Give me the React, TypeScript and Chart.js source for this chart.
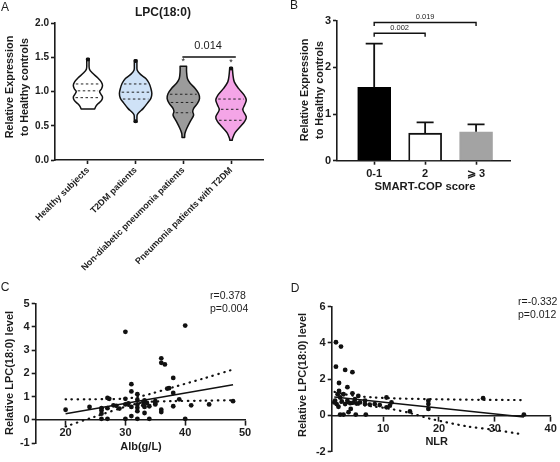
import React, { useEffect, useRef } from "react";
import { Chart, registerables } from "chart.js";

Chart.register(...registerables);

const FONT = "'Liberation Sans', Arial, Helvetica, sans-serif";
const INK = "#1c1c1c";

// ---------------- Panel A: violins ----------------
const groupLabels = [
  "Healthy subjects",
  "T2DM patients",
  "Non-diabetic pneumonia patients",
  "Pneumonia patients with T2DM",
];
const violinFills = ["#ffffff", "#cfe2f7", "#9b9b9b", "#f4a5e7"];
// [value, relative density]
const violinHealthy = [
  [1.48, 0.08], [1.42, 0.07], [1.33, 0.09], [1.27, 0.28], [1.2, 0.6], [1.14, 0.82],
  [1.09, 0.9], [1.04, 0.84], [1.0, 0.72], [0.96, 0.8], [0.92, 0.9], [0.87, 0.84],
  [0.82, 0.62], [0.78, 0.48], [0.745, 0.42],
];
const violinT2dm = [
  [1.46, 0.08], [1.38, 0.08], [1.31, 0.1], [1.25, 0.3], [1.19, 0.63], [1.12, 0.83],
  [1.045, 0.94], [0.97, 1.0], [0.9, 0.94], [0.83, 0.73], [0.75, 0.46], [0.705, 0.25],
  [0.66, 0.1], [0.6, 0.08], [0.55, 0.08],
];
const violinPneumonia = [
  [1.37, 0.2], [1.29, 0.2], [1.19, 0.25], [1.12, 0.42], [1.045, 0.73], [0.97, 0.94],
  [0.9, 1.0], [0.83, 0.88], [0.75, 0.63], [0.705, 0.58], [0.65, 0.63], [0.56, 0.42],
  [0.46, 0.21], [0.39, 0.1], [0.33, 0.08],
];
const violinPneumoniaT2dm = [
  [1.35, 0.08], [1.24, 0.12], [1.14, 0.2], [1.045, 0.46], [0.95, 0.8], [0.875, 0.94],
  [0.8, 0.83], [0.73, 0.73], [0.63, 0.94], [0.56, 0.83], [0.49, 0.58], [0.4, 0.25],
  [0.32, 0.1], [0.29, 0.08],
];
const violinProfiles = [violinHealthy, violinT2dm, violinPneumonia, violinPneumoniaT2dm];
// [Q3, median, Q1]
const violinQuartiles = [
  [1.11, 1.01, 0.91],
  [1.11, 0.99, 0.89],
  [0.96, 0.84, 0.69],
  [0.89, 0.74, 0.58],
];
const violinCaps = [[true, false], [true, true], [false, false], [true, false]];
const starGroups = [3, 4];
const starLevels = [1.44, 1.43];
const pValueA = "0.014";
const pValueALevel = 1.505;

// ---------------- Panel B: bars ----------------
const scoreLabels = ["0-1", "2", "\u2A7E 3"];
const meanValues = [1.57, 0.59, 0.62];
const upperErrors = [2.51, 0.82, 0.78];
const barFills = ["#000000", "#ffffff", "#a3a3a3"];
const barBorders = ["#000000", "#111111", "#a3a3a3"];
const compFrom = [1, 1];
const compTo = [2, 3];
const compLevels = [2.73, 2.96];
const compLabels = ["0.002", "0.019"];

// ---------------- Panel C: Alb scatter ----------------
const albValues = [
  20, 24, 26, 26, 26, 26, 27, 27, 27, 28, 29, 30, 30, 30, 30, 31, 31, 31, 31, 32, 32, 32, 32,
  32, 32, 33, 33, 33.2, 33.2, 33.2, 34, 34, 35, 35, 36, 36, 36, 36, 36.6, 37, 38, 38, 38, 39,
  40, 40, 41, 44, 48, 33.6, 30.5, 28.5, 35, 27.3, 37.3,
];
const albLpc = [
  0.43, 0.55, 0.4, 0.26, 0.04, 0.5, 0.94, 0.5, 0.04, 0.62, 0.48, 3.78, 0.9, 0.66, 0.04, 1.53,
  1.22, 0.55, 0.16, 1.1, 0.86, 0.66, 0.52, 0.37, 0.04, 0.76, 0.62, 0.83, 0.55, 0.29, 0.58,
  0.04, 0.8, 0.66, 2.64, 2.45, 0.43, 0.33, 2.38, 1.34, 1.8, 1.15, 0.58, 0.88, 4.05, 0.04,
  0.62, 0.66, 0.8, 0.72, 0.7, 0.6, 0.72, 0.9, 1.36,
];
const albFitX = [20, 48];
const albFitY = [0.26, 1.51];
const albUpperX = [20, 24, 28, 30, 32, 34, 38, 43, 48];
const albUpperY = [0.88, 0.88, 0.89, 0.91, 0.98, 1.1, 1.4, 1.77, 2.16];
const albLowerX = [20, 25, 30, 32, 34, 38, 43, 48];
const albLowerY = [-0.29, 0.14, 0.56, 0.7, 0.77, 0.8, 0.82, 0.84];
const albStats = ["r=0.378", "p=0.004"];

// ---------------- Panel D: NLR scatter ----------------
const nlrValues = [
  1.55, 2.45, 1.55, 3.2, 4.5, 2.1, 3.6, 2.1, 1.85, 1.4, 1.25, 1.67, 2.0, 2.3, 2.6, 2.9, 3.2,
  3.6, 4.1, 4.2, 4.5, 4.7, 4.96, 5.25, 5.55, 5.85, 6.75, 6.75, 6.9, 2.3, 2.9, 3.8, 5.1, 8.5,
  9.4, 10.6, 10.6, 11.2, 11.5, 14.8, 18.1, 18.1, 18.1, 27.9, 35.2, 7.6,
];
const nlrLpc = [
  4.04, 3.8, 2.69, 2.51, 2.39, 1.79, 1.56, 1.35, 1.17, 0.81, 0.72, 0.63, 0.48, 0.99, 0.77,
  1.17, 0.63, 0.81, 0.68, 0.36, 1.22, 0.72, 0.9, 0.66, 1.08, 0.72, 0.81, 0.63, 0.05, 0.05,
  0.05, 0.18, 0.05, 0.63, 0.57, 0.99, 0.45, 0.54, 0.72, 0.22, 0.81, 0.63, 0.36, 0.95, 0.05,
  0.6,
];
const nlrFitX = [1.25, 35.2];
const nlrFitY = [1.02, -0.09];
const nlrUpperX = [1.3, 3, 5, 8, 12, 20, 28, 35.2];
const nlrUpperY = [1.3, 1.18, 1.08, 1.0, 0.94, 0.89, 0.86, 0.85];
const nlrLowerX = [1.3, 4, 8, 11.2, 15, 18.4, 25, 30, 34.5];
const nlrLowerY = [0.74, 0.66, 0.5, 0.37, 0.12, -0.18, -0.6, -0.8, -1.02];
const nlrStats = ["r=-0.332", "p=0.012"];

// ---------------- helpers ----------------
const VIOLIN_MAX_HALF = 0.34;

function text(
  ctx: CanvasRenderingContext2D,
  s: string,
  x: number,
  y: number,
  size: number,
  weight = "normal",
  align: CanvasTextAlign = "center",
  rotate = 0
) {
  ctx.save();
  ctx.translate(x, y);
  if (rotate) ctx.rotate(rotate);
  ctx.font = `${weight} ${size}px ${FONT}`;
  ctx.fillStyle = INK;
  ctx.textAlign = align;
  ctx.textBaseline = "middle";
  ctx.fillText(s, 0, 0);
  ctx.restore();
}

function curveThrough(ctx: CanvasRenderingContext2D, pts: number[][]) {
  for (let i = 0; i < pts.length - 1; i++) {
    const p0 = pts[i - 1] || pts[i];
    const p1 = pts[i];
    const p2 = pts[i + 1];
    const p3 = pts[i + 2] || p2;
    ctx.bezierCurveTo(
      p1[0] + (p2[0] - p0[0]) / 6,
      p1[1] + (p2[1] - p0[1]) / 6,
      p2[0] - (p3[0] - p1[0]) / 6,
      p2[1] - (p3[1] - p1[1]) / 6,
      p2[0],
      p2[1]
    );
  }
}

function densityAt(prof: number[][], v: number) {
  for (let i = 0; i < prof.length - 1; i++) {
    const [v1, d1] = prof[i];
    const [v2, d2] = prof[i + 1];
    if ((v <= v1 && v >= v2) || (v >= v1 && v <= v2)) {
      const t = (v - v1) / (v2 - v1 || 1);
      return d1 + t * (d2 - d1);
    }
  }
  return 0;
}

function axisStyle(size: number, tickLen = 4) {
  return {
    border: { display: true, color: INK, width: 1.6 },
    grid: {
      display: true,
      drawOnChartArea: false,
      drawTicks: true,
      tickLength: tickLen,
      tickWidth: 1.6,
      tickColor: INK,
      color: INK,
    },
    ticks: {
      color: INK,
      font: { family: FONT, size, weight: "bold" as const },
      padding: 2,
      autoSkip: false,
    },
  };
}

function pts(xs: number[], ys: number[]) {
  return xs.map((x, i) => ({ x, y: ys[i] }));
}

const commonOptions = {
  responsive: false,
  maintainAspectRatio: false,
  animation: false as const,
  devicePixelRatio: 1,
  events: [] as any[],
  plugins: { legend: { display: false }, tooltip: { enabled: false }, title: { display: false } },
};

// ---------------- configs ----------------
function configA(): any {
  const violinPlugin = {
    id: "violins",
    afterDatasetsDraw(chart: any) {
      const { ctx } = chart;
      const x = chart.scales.x;
      const y = chart.scales.y;
      const unit = x.getPixelForValue(1 + VIOLIN_MAX_HALF) - x.getPixelForValue(1);
      violinProfiles.forEach((prof, i) => {
        const xc = x.getPixelForValue(i + 1);
        const right = prof.map(([v, d]) => [xc + d * unit, y.getPixelForValue(v)]);
        const left = prof.map(([v, d]) => [xc - d * unit, y.getPixelForValue(v)]).reverse();
        ctx.save();
        ctx.beginPath();
        ctx.moveTo(right[0][0], right[0][1]);
        curveThrough(ctx, right);
        ctx.lineTo(left[0][0], left[0][1]);
        curveThrough(ctx, left);
        ctx.closePath();
        ctx.fillStyle = violinFills[i];
        ctx.fill();
        ctx.strokeStyle = "#111";
        ctx.lineWidth = 1.5;
        ctx.lineJoin = "round";
        ctx.stroke();
        // caps
        const [topCap, botCap] = violinCaps[i];
        ctx.fillStyle = "#111";
        if (topCap) {
          ctx.beginPath();
          ctx.arc(xc, y.getPixelForValue(prof[0][0]) + 1, 2, 0, Math.PI * 2);
          ctx.fill();
        }
        if (botCap) {
          ctx.beginPath();
          ctx.arc(xc, y.getPixelForValue(prof[prof.length - 1][0]) - 1, 2, 0, Math.PI * 2);
          ctx.fill();
        }
        // quartiles
        ctx.setLineDash([2.5, 2.5]);
        ctx.lineWidth = 1;
        ctx.strokeStyle = "#222";
        violinQuartiles[i].forEach((q) => {
          const w = densityAt(prof, q) * unit - 2;
          const py = y.getPixelForValue(q);
          ctx.beginPath();
          ctx.moveTo(xc - w, py);
          ctx.lineTo(xc + w, py);
          ctx.stroke();
        });
        ctx.restore();
      });
      // stars
      starGroups.forEach((g, k) => {
        text(ctx, "*", x.getPixelForValue(g), y.getPixelForValue(starLevels[k]), 9);
      });
      // bracket
      const yb = y.getPixelForValue(pValueALevel);
      ctx.save();
      ctx.strokeStyle = "#111";
      ctx.lineWidth = 1.5;
      ctx.beginPath();
      ctx.moveTo(x.getPixelForValue(2.98), yb);
      ctx.lineTo(x.getPixelForValue(4.1), yb);
      ctx.stroke();
      ctx.restore();
      text(ctx, pValueA, x.getPixelForValue(3.52), yb - 11, 11);
      // titles
      text(ctx, "A", 5, 8, 12);
      text(ctx, "LPC(18:0)", 163, 13, 12, "bold");
      text(ctx, "Relative Expression", 10, 87, 10.8, "bold", "center", -Math.PI / 2);
      text(ctx, "to Healthy controls", 25, 87, 10.8, "bold", "center", -Math.PI / 2);
    },
  };
  return {
    type: "scatter",
    data: { datasets: [] },
    options: {
      ...commonOptions,
      layout: { padding: { top: 23, right: 17, bottom: 0, left: 0 } },
      scales: {
        x: {
          type: "linear",
          min: 0.31,
          max: 4.67,
          ...axisStyle(9),
          ticks: {
            ...axisStyle(9).ticks,
            maxRotation: 45,
            minRotation: 45,
            padding: 1,
            callback: (v: number) => groupLabels[Math.round(v) - 1] ?? "",
          },
          afterBuildTicks: (s: any) => {
            s.ticks = groupLabels.map((_, i) => ({ value: i + 1 }));
          },
          afterFit: (s: any) => {
            s.height = 140;
          },
        },
        y: {
          type: "linear",
          min: 0,
          max: 2,
          ...axisStyle(10),
          ticks: { ...axisStyle(10).ticks, stepSize: 0.5, callback: (v: number) => v.toFixed(1) },
          afterFit: (s: any) => {
            s.width = 55;
          },
        },
      },
    },
    plugins: [violinPlugin],
  };
}

function configB(): any {
  const plugin = {
    id: "barExtras",
    afterDatasetsDraw(chart: any) {
      const { ctx } = chart;
      const x = chart.scales.x;
      const y = chart.scales.y;
      ctx.save();
      ctx.strokeStyle = "#111";
      ctx.lineWidth = 1.8;
      meanValues.forEach((m, i) => {
        const xc = x.getPixelForValue(i + 1);
        const yt = y.getPixelForValue(upperErrors[i]);
        const ym = y.getPixelForValue(m);
        ctx.beginPath();
        ctx.moveTo(xc, ym);
        ctx.lineTo(xc, yt);
        ctx.moveTo(xc - 8.5, yt);
        ctx.lineTo(xc + 8.5, yt);
        ctx.stroke();
      });
      ctx.lineWidth = 1.4;
      compFrom.forEach((f, k) => {
        const x1 = x.getPixelForValue(f);
        const x2 = x.getPixelForValue(compTo[k]);
        const yl = y.getPixelForValue(compLevels[k]);
        ctx.beginPath();
        ctx.moveTo(x1, yl + 3.5);
        ctx.lineTo(x1, yl);
        ctx.lineTo(x2, yl);
        ctx.lineTo(x2, yl + 3.5);
        ctx.stroke();
        text(ctx, compLabels[k], (x1 + x2) / 2, yl - 5.5, 7.5);
      });
      ctx.restore();
      text(ctx, "B", 14, 6, 12);
      text(ctx, "Relative Expression", 25, 90, 10.8, "bold", "center", -Math.PI / 2);
      text(ctx, "to Healthy controls", 40, 90, 10.8, "bold", "center", -Math.PI / 2);
      text(ctx, "SMART-COP score", 145, 187, 11.3, "bold");
    },
  };
  return {
    type: "bar",
    data: {
      datasets: [
        {
          data: meanValues.map((v, i) => ({ x: i + 1, y: v })),
          backgroundColor: barFills,
          borderColor: barBorders,
          borderWidth: 1.8,
          barThickness: 33,
        },
      ],
    },
    options: {
      ...commonOptions,
      layout: { padding: { top: 20.7, right: 49.3, bottom: 0, left: 0 } },
      scales: {
        x: {
          type: "linear",
          min: 0.27,
          max: 3.68,
          offset: false,
          ...axisStyle(11),
          grid: { ...axisStyle(11).grid, offset: false },
          ticks: {
            ...axisStyle(11).ticks,
            maxRotation: 0,
            minRotation: 0,
            padding: 3,
            callback: (v: number) => scoreLabels[Math.round(v) - 1] ?? "",
          },
          afterBuildTicks: (s: any) => {
            s.ticks = scoreLabels.map((_, i) => ({ value: i + 1 }));
          },
          afterFit: (s: any) => {
            s.height = 39.3;
          },
        },
        y: {
          type: "linear",
          min: 0,
          max: 3,
          ...axisStyle(11),
          ticks: { ...axisStyle(11).ticks, stepSize: 1 },
          afterFit: (s: any) => {
            s.width = 57;
          },
        },
      },
    },
    plugins: [plugin],
  };
}

function scatterConfig(opts: {
  xs: number[];
  ys: number[];
  fitX: number[];
  fitY: number[];
  upX: number[];
  upY: number[];
  loX: number[];
  loY: number[];
  xMin: number;
  xMax: number;
  xTicks: number[];
  yMin: number;
  yMax: number;
  yStep: number;
  yWidth: number;
  padding: any;
  extras: (ctx: CanvasRenderingContext2D) => void;
}): any {
  const dotted = {
    showLine: true,
    pointRadius: 0,
    borderColor: "#111",
    borderWidth: 2.2,
    borderDash: [0.5, 5.5],
    borderCapStyle: "round",
    fill: false,
    tension: 0.3,
  };
  return {
    type: "scatter",
    data: {
      datasets: [
        {
          data: pts(opts.xs, opts.ys),
          pointRadius: 2.4,
          pointBackgroundColor: "#111",
          pointBorderWidth: 0,
          showLine: false,
        },
        {
          data: pts(opts.fitX, opts.fitY),
          showLine: true,
          pointRadius: 0,
          borderColor: "#111",
          borderWidth: 1.5,
        },
        { data: pts(opts.upX, opts.upY), ...dotted },
        { data: pts(opts.loX, opts.loY), ...dotted },
      ],
    },
    options: {
      ...commonOptions,
      layout: { padding: opts.padding },
      scales: {
        x: {
          type: "linear",
          min: opts.xMin,
          max: opts.xMax,
          position: { y: 0 },
          ...axisStyle(11, 5),
          ticks: { ...axisStyle(11, 5).ticks, padding: 2, maxRotation: 0 },
          afterBuildTicks: (s: any) => {
            s.ticks = opts.xTicks.map((v) => ({ value: v }));
          },
        },
        y: {
          type: "linear",
          min: opts.yMin,
          max: opts.yMax,
          ...axisStyle(11),
          ticks: { ...axisStyle(11).ticks, stepSize: opts.yStep },
          afterFit: (s: any) => {
            s.width = opts.yWidth;
          },
        },
      },
    },
    plugins: [
      {
        id: "extras",
        afterDraw(chart: any) {
          opts.extras(chart.ctx);
        },
      },
    ],
  };
}

function configC(): any {
  return scatterConfig({
    xs: albValues,
    ys: albLpc,
    fitX: albFitX,
    fitY: albFitY,
    upX: albUpperX,
    upY: albUpperY,
    loX: albLowerX,
    loY: albLowerY,
    xMin: 15,
    xMax: 50,
    xTicks: [20, 30, 40, 50],
    yMin: -1,
    yMax: 5,
    yStep: 1,
    yWidth: 35.7,
    padding: { top: 23.5, right: 35, bottom: 19, left: 0 },
    extras: (ctx) => {
      text(ctx, "C", 5, 8, 12);
      text(ctx, "Relative LPC(18:0) level", 9.5, 93, 11, "bold", "center", -Math.PI / 2);
      text(ctx, "Alb(g/L)", 141, 167, 11, "bold");
      text(ctx, albStats[0], 210, 16, 10.5, "normal", "left");
      text(ctx, albStats[1], 210, 29, 10.5, "normal", "left");
    },
  });
}

function configD(): any {
  return scatterConfig({
    xs: nlrValues,
    ys: nlrLpc,
    fitX: nlrFitX,
    fitY: nlrFitY,
    upX: nlrUpperX,
    upY: nlrUpperY,
    loX: nlrLowerX,
    loY: nlrLowerY,
    xMin: 0.79,
    xMax: 40,
    xTicks: [10, 20, 30, 40],
    yMin: -2,
    yMax: 6,
    yStep: 2,
    yWidth: 51.7,
    padding: { top: 26.7, right: 9.3, bottom: 10.3, left: 0 },
    extras: (ctx) => {
      text(ctx, "D", 15, 9, 12);
      text(ctx, "Relative LPC(18:0) level", 22.7, 95, 11, "bold", "center", -Math.PI / 2);
      text(ctx, "NLR", 156.7, 161.7, 11, "bold");
      text(ctx, nlrStats[0], 238, 22.3, 10.5, "normal", "left");
      text(ctx, nlrStats[1], 238, 35, 10.5, "normal", "left");
    },
  });
}

export default function App() {
  const aRef = useRef<HTMLCanvasElement>(null);
  const bRef = useRef<HTMLCanvasElement>(null);
  const cRef = useRef<HTMLCanvasElement>(null);
  const dRef = useRef<HTMLCanvasElement>(null);

  useEffect(() => {
    const charts = [
      new Chart(aRef.current!, configA()),
      new Chart(bRef.current!, configB()),
      new Chart(cRef.current!, configC()),
      new Chart(dRef.current!, configD()),
    ];
    return () => charts.forEach((c) => c.destroy());
  }, []);

  const cv = (left: number, top: number, w: number, h: number): React.CSSProperties => ({
    position: "absolute",
    left,
    top,
    width: w,
    height: h,
  });

  return (
    <div
      style={{
        position: "absolute",
        left: 0,
        top: 0,
        width: 560,
        height: 462,
        background: "#ffffff",
        overflow: "hidden",
      }}
    >
      <canvas ref={aRef} width={280} height={300} style={cv(0, 0, 280, 300)} />
      <canvas ref={bRef} width={280} height={200} style={cv(280, 0, 280, 200)} />
      <canvas ref={cRef} width={280} height={182} style={cv(0, 280, 280, 182)} />
      <canvas ref={dRef} width={280} height={182} style={cv(280, 280, 280, 182)} />
    </div>
  );
}
